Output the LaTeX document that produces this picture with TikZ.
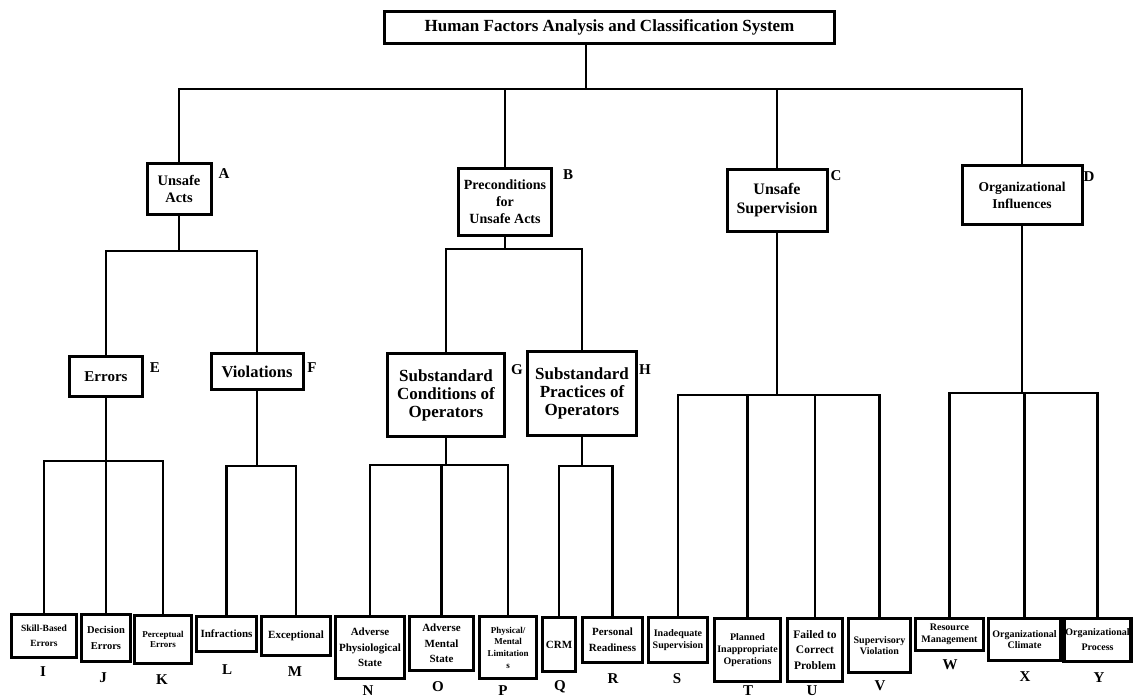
\documentclass[tikz,border=0pt]{standalone}
\usepackage{fontspec}
\setmainfont{Liberation Serif}

\begin{document}
\begin{tikzpicture}[
  x=1pt, y=-1pt,
  fs/.style 2 args={font=\bfseries\fontsize{#1}{#2}\selectfont},
  boxbase/.style={draw, line width=3pt, align=center, inner sep=1pt, fill=white},
  leaf/.style={boxbase, line width=3.2pt},
  tag/.style={font=\bfseries\fontsize{15}{15}\selectfont, inner sep=0pt},
  link/.style={line width=2.9pt, line join=miter},
]
\useasboundingbox (0,0) rectangle (1134,700);

\node[boxbase, fs={17}{20}, minimum width=450, minimum height=32] (hfacs) at (609.5,27.5)
  {Human Factors Analysis and Classification System};

\node[boxbase, fs={14.5}{17}, minimum width=64, minimum height=51] (unsafe) at (179,189) {Unsafe\\Acts};
\node[boxbase, fs={14}{17}, minimum width=93, minimum height=67] (precond) at (505,202) {Preconditions\\for\\Unsafe Acts};
\node[boxbase, fs={16}{19}, minimum width=100, minimum height=62] (unsafeSup) at (777,200.5) {Unsafe\\Supervision};
\node[boxbase, fs={13.5}{17}, minimum width=120, minimum height=59] (orgInf) at (1022,195) {Organizational\\Influences};

\node[boxbase, fs={15}{18}, minimum width=73, minimum height=40] (errors) at (106,376.5) {Errors};
\node[boxbase, fs={16.5}{18}, minimum width=92, minimum height=36] (violations) at (257,371.5) {Violations};
\node[boxbase, fs={17}{18}, minimum width=117, minimum height=83] (subCond) at (446,395) {Substandard\\Conditions of\\Operators};
\node[boxbase, fs={17}{18}, minimum width=109, minimum height=84] (subPrac) at (582,393.5) {Substandard\\Practices of\\Operators};

\node[leaf, fs={9.5}{15}, minimum width=65, minimum height=43] (skill) at (44,636) {Skill-Based\\Errors};
\node[leaf, fs={10.5}{16}, minimum width=49, minimum height=47] (decision) at (106,638) {Decision\\Errors};
\node[leaf, fs={9}{10}, minimum width=57, minimum height=48] (perceptual) at (163,639.5) {Perceptual\\Errors};
\node[leaf, fs={11}{14}, minimum width=60, minimum height=35] (infractions) at (226.5,634) {Infractions};
\node[leaf, fs={11}{14}, minimum width=69, minimum height=39] (exceptional) at (296,636) {Exceptional};
\node[leaf, fs={11}{15.5}, minimum width=69, minimum height=62] (advPhys) at (370,647.5) {Adverse\\Physiological\\State};
\node[leaf, fs={11}{15.5}, minimum width=64, minimum height=54] (advMental) at (441.5,643.5) {Adverse\\Mental\\State};
\node[leaf, fs={9}{11.7}, minimum width=57, minimum height=62] (physLim) at (508,647.5) {Physical/\\Mental\\Limitation\\s};
\node[leaf, fs={11}{14}, minimum width=33, minimum height=54] (crm) at (559,644.5) {CRM};
\node[leaf, fs={11}{16}, minimum width=60, minimum height=45] (readiness) at (612.5,640) {Personal\\Readiness};
\node[leaf, fs={10}{11.5}, minimum width=59, minimum height=45] (inadSup) at (678,640) {Inadequate\\Supervision};
\node[leaf, fs={10}{12}, minimum width=66, minimum height=63] (planned) at (747.5,650) {Planned\\Inappropriate\\Operations};
\node[leaf, fs={11.5}{15.5}, minimum width=55, minimum height=63] (failed) at (815,650) {Failed to\\Correct\\Problem};
\node[leaf, fs={10}{11.5}, minimum width=62, minimum height=54] (supViol) at (879.5,645.5) {Supervisory\\Violation};
\node[leaf, fs={10}{11.5}, minimum width=68, minimum height=32] (resMgmt) at (949.5,634.5) {Resource\\Management};
\node[leaf, fs={10}{11.5}, minimum width=72, minimum height=42] (orgClim) at (1024.5,639.5) {Organizational\\Climate};
\node[leaf, fs={10}{15}, minimum width=67, minimum height=43] (orgProc) at (1097.5,640) {Organizational\\Process};

\node[tag] (tA) at (224,174) {A};
\node[tag] (tB) at (568,175) {B};
\node[tag] (tC) at (836,176) {C};
\node[tag] (tD) at (1089,177) {D};
\node[tag] (tE) at (155,368) {E};
\node[tag] (tF) at (312,368) {F};
\node[tag] (tG) at (517,370) {G};
\node[tag] (tH) at (645,370) {H};
\node[tag] (tI) at (43,672) {I};
\node[tag] (tJ) at (103,678) {J};
\node[tag] (tK) at (162,680) {K};
\node[tag] (tL) at (227,670) {L};
\node[tag] (tM) at (295,672) {M};
\node[tag] (tN) at (368,691) {N};
\node[tag] (tO) at (438,687) {O};
\node[tag] (tP) at (503,691) {P};
\node[tag] (tQ) at (560,687) {Q};
\node[tag] (tR) at (613,679) {R};
\node[tag] (tS) at (677,679) {S};
\node[tag] (tT) at (748,691) {T};
\node[tag] (tU) at (812,691) {U};
\node[tag] (tV) at (880,686) {V};
\node[tag] (tW) at (950,665) {W};
\node[tag] (tX) at (1025,677) {X};
\node[tag] (tY) at (1099,678) {Y};

\coordinate (jT) at (586,89);
\coordinate (jA) at (179,251);
\coordinate (jB) at (505,249);
\coordinate (jC) at (777,395);
\coordinate (jD) at (1022,393);
\coordinate (jE) at (106,461);
\coordinate (jF) at (257,466);
\coordinate (jG) at (446,465);
\coordinate (jH) at (582,466);

\draw[link] (hfacs.south -| jT) -- (jT);
\draw[link] (unsafe.north) |- (jT) -| (orgInf.north);
\draw[link] (precond.north) -- (precond.north |- jT);
\draw[link] (unsafeSup.north) -- (unsafeSup.north |- jT);

\draw[link] (unsafe.south) -- (jA);
\draw[link] (errors.north) |- (jA) -| (violations.north);
\draw[link] (precond.south) -- (jB);
\draw[link] (subCond.north) |- (jB) -| (subPrac.north);

\draw[link] (errors.south) -- (jE);
\draw[link] (skill.north) |- (jE) -| (perceptual.north);
\draw[link] (decision.north) -- (decision.north |- jE);
\draw[link] (violations.south) -- (jF);
\draw[link] (infractions.north) |- (jF) -| (exceptional.north);
\draw[link] (subCond.south) -- (jG);
\draw[link] (advPhys.north) |- (jG) -| (physLim.north);
\draw[link] (advMental.north) -- (advMental.north |- jG);
\draw[link] (subPrac.south) -- (jH);
\draw[link] (crm.north) |- (jH) -| (readiness.north);

\draw[link] (unsafeSup.south) -- (jC);
\draw[link] (inadSup.north) |- (jC) -| (supViol.north);
\draw[link] (planned.north) -- (planned.north |- jC);
\draw[link] (failed.north) -- (failed.north |- jC);
\draw[link] (orgInf.south) -- (jD);
\draw[link] (resMgmt.north) |- (jD) -| (orgProc.north);
\draw[link] (orgClim.north) -- (orgClim.north |- jD);
\end{tikzpicture}
\end{document}
